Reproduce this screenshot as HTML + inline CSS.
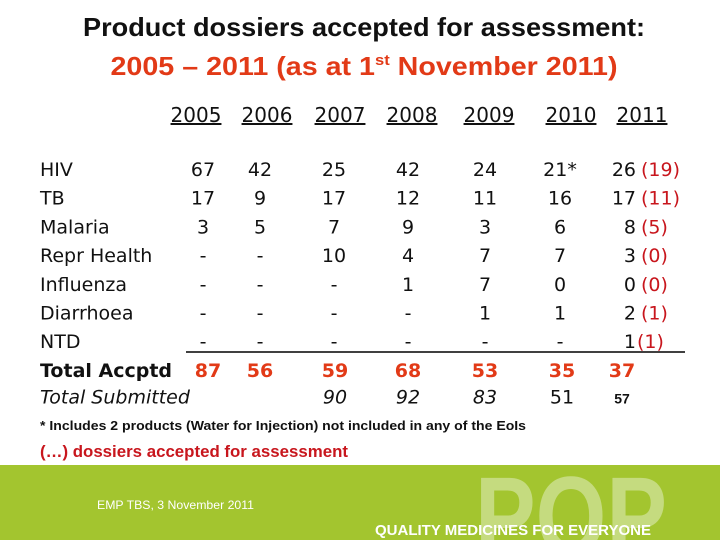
<!DOCTYPE html>
<html><head><meta charset="utf-8"><style>
html,body{margin:0;padding:0;background:#fff;width:720px;height:540px;overflow:hidden;}
svg{display:block;}
</style></head><body>
<svg id="slide" width="720" height="540" viewBox="0 0 720 540" xmlns="http://www.w3.org/2000/svg">
  <defs><clipPath id="band"><rect x="0" y="465" width="720" height="75"/></clipPath></defs>
  <text x="364" y="36" text-anchor="middle" font-family="Liberation Sans, sans-serif" font-weight="bold" font-size="26" fill="#111" textLength="562" lengthAdjust="spacingAndGlyphs">Product dossiers accepted for assessment:</text>
  <text x="364" y="75" text-anchor="middle" font-family="Liberation Sans, sans-serif" font-weight="bold" font-size="26" fill="#e23a17" textLength="507" lengthAdjust="spacingAndGlyphs">2005 – 2011 (as at 1<tspan font-size="15" dy="-10">st</tspan><tspan dy="10"> November 2011)</tspan></text>
  <g id="table" font-family="DejaVu Sans, Liberation Sans, sans-serif" font-size="19"></g>
  <line x1="186" y1="352" x2="685" y2="352" stroke="#000" stroke-width="1.5"/>
  <text x="40" y="430" font-family="Liberation Sans, sans-serif" font-weight="bold" font-size="13" fill="#111" textLength="486" lengthAdjust="spacingAndGlyphs">* Includes 2 products (Water for Injection) not included in any of the EoIs</text>
  <text x="40" y="457" font-family="Liberation Sans, sans-serif" font-weight="bold" font-size="17" fill="#c8161d" textLength="308" lengthAdjust="spacingAndGlyphs">(…) dossiers accepted for assessment</text>
  <rect x="0" y="465" width="720" height="75" fill="#a3c52f"/>
  <g clip-path="url(#band)">
    <text x="475" y="555" font-family="Liberation Sans, sans-serif" font-weight="bold" font-size="112" fill="#c5db7f" textLength="192" lengthAdjust="spacingAndGlyphs">PQP</text>
  </g>
  <text x="97" y="509" font-family="Liberation Sans, sans-serif" font-size="12" fill="#fff" textLength="157" lengthAdjust="spacingAndGlyphs">EMP TBS, 3 November 2011</text>
  <text x="375" y="535" font-family="Liberation Sans, sans-serif" font-weight="bold" font-size="15" fill="#fff" textLength="276" lengthAdjust="spacingAndGlyphs">QUALITY MEDICINES FOR EVERYONE</text>
</svg>
<script>
const years = ["2005","2006","2007","2008","2009","2010","2011"];
const rowLabels = ["HIV","TB","Malaria","Repr Health","Influenza","Diarrhoea","NTD"];
const hiv = ["67","42","25","42","24","21*","26"];
const tb = ["17","9","17","12","11","16","17"];
const malaria = ["3","5","7","9","3","6","8"];
const reprHealth = ["-","-","10","4","7","7","3"];
const influenza = ["-","-","-","1","7","0","0"];
const diarrhoea = ["-","-","-","-","1","1","2"];
const ntd = ["-","-","-","-","-","-","1"];
const accepted2011 = ["(19)","(11)","(5)","(0)","(0)","(1)","(1)"];
const totalAccepted = ["87","56","59","68","53","35","37"];
const totalSubmitted = ["","","90","92","83","51","57"];
const rows = [hiv, tb, malaria, reprHealth, influenza, diarrhoea, ntd];

// layout (not data)
const HEADER_X = [196, 267, 340, 412, 489, 571, 642];
const CELL_X = [203, 260, 334, 408, 485, 560, 636];
const TOTAL_X = [208, 260, 335, 408, 485, 562, 622];

const NS = "http://www.w3.org/2000/svg";
const g = document.getElementById('table');
const rowY = r => 176 + r * 28.7;
function txt(x, y, s, opts) {
  const t = document.createElementNS(NS, 'text');
  t.setAttribute('x', x); t.setAttribute('y', y);
  for (const k in (opts || {})) t.setAttribute(k, opts[k]);
  t.textContent = s; g.appendChild(t); return t;
}
years.forEach((yr, i) => {
  const t = txt(HEADER_X[i], 122, yr, {'text-anchor':'middle', 'text-decoration':'underline', fill:'#111', 'font-size':'20'});
  
  
});
rowLabels.forEach((lab, r) => {
  const key = lab.toLowerCase().replace(/\s+/g, '-');
  const t = txt(40, rowY(r), lab, {fill:'#111'});
  
  
  rows[r].forEach((v, i) => {
    const c = txt(CELL_X[i], rowY(r), v, {'text-anchor': i === 6 ? 'end' : 'middle', fill:'#111'});
    
    
  });
  const a = txt(r === 6 ? 637 : 641, rowY(r), accepted2011[r], {fill:'#c8161d'});
  
  
});
const tl = txt(40, rowY(7), 'Total Accptd', {'font-weight':'bold', fill:'#111'});


totalAccepted.forEach((v, i) => {
  const c = txt(TOTAL_X[i], rowY(7), v, {'text-anchor':'middle', 'font-weight':'bold', fill:'#e23a17'});
  
  
});
const sl = txt(40, rowY(8) - 2, 'Total Submitted', {'font-style':'italic', fill:'#111'});


totalSubmitted.forEach((v, i) => {
  if (!v) return;
  const opts = {'text-anchor':'middle', fill:'#111'};
  if (i < 5) opts['font-style'] = 'italic';
  if (i === 6) { opts['font-weight'] = 'bold'; opts['font-size'] = '14'; opts['font-family'] = 'Liberation Sans, sans-serif'; }
  const c = txt(TOTAL_X[i], rowY(8) - 2, v, opts);
  
  
});
</script>
</body></html>
